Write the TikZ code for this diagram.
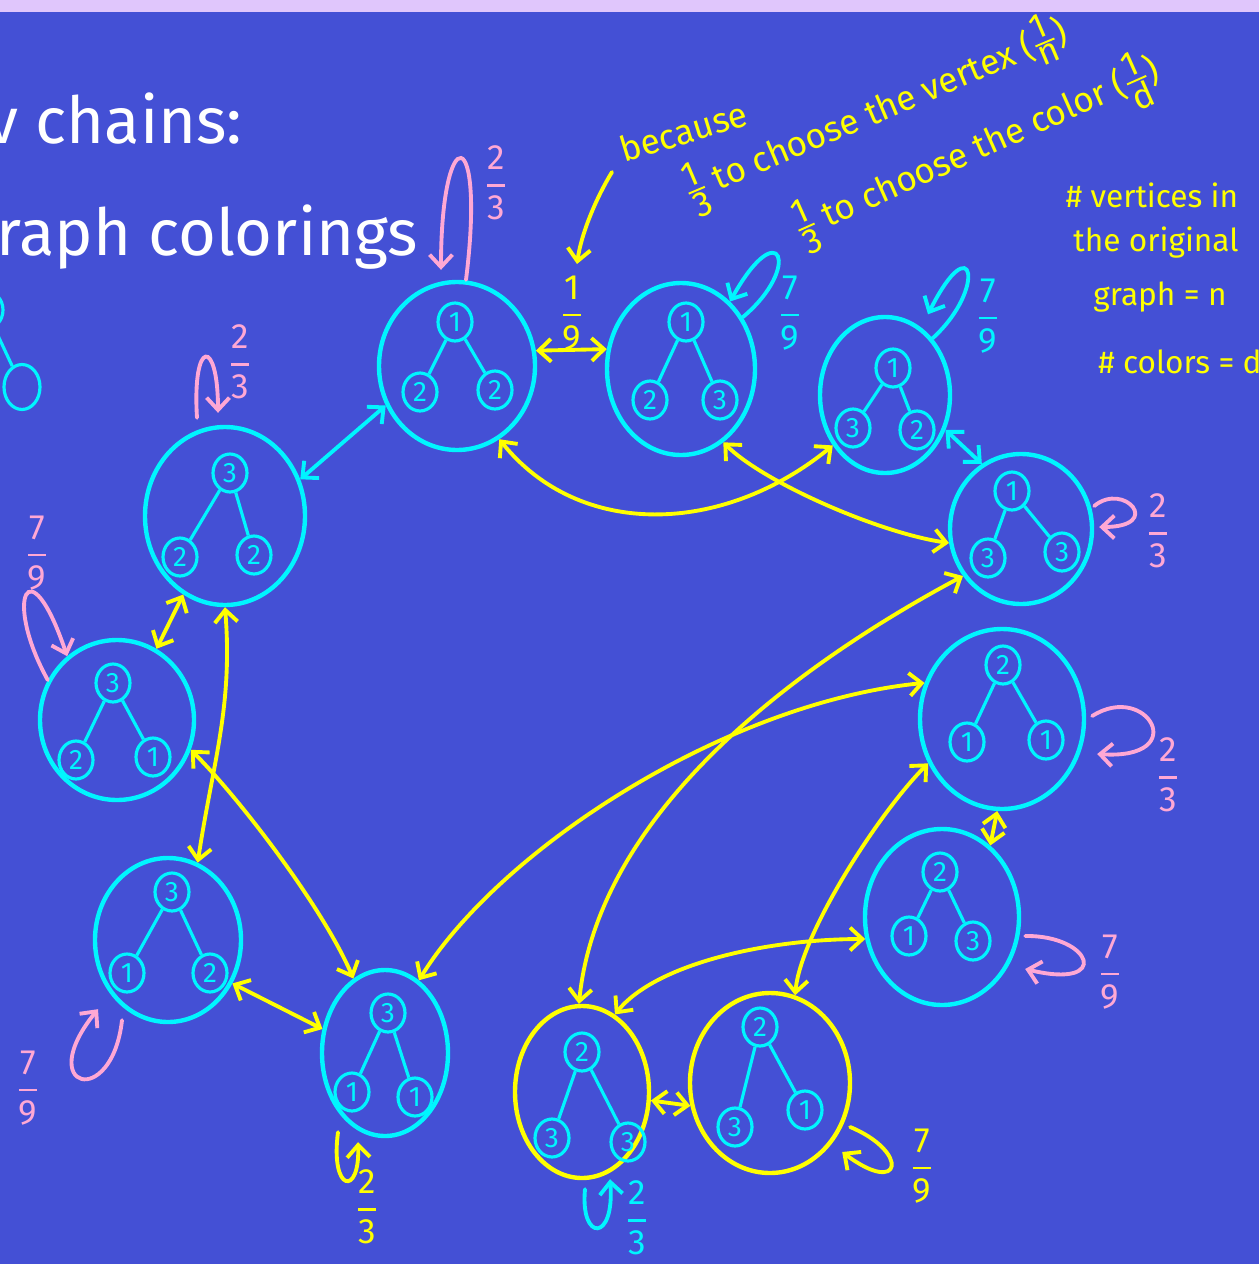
\documentclass[tikz,border=0pt]{standalone}
\usepackage{amsmath}
\usepackage{fontspec}
\setmainfont{Fira Sans}
\usetikzlibrary{shapes.geometric,arrows.meta,calc}
\definecolor{bg}{HTML}{4450D5}
\definecolor{lav}{HTML}{E0C6FC}
\definecolor{cy}{HTML}{00F5FF}
\definecolor{yl}{HTML}{FFFF00}
\definecolor{pk}{HTML}{FFA8D4}
\newcommand\fr[2]{$\genfrac{}{}{1.4pt}{0}{\mbox{#1}}{\mbox{#2}}$}
\newcommand\frs[2]{$\genfrac{}{}{1.1pt}{1}{\mbox{#1}}{\mbox{#2}}$}
\newcommand\tri[7]{%
 \node[vtx] (#1t) at (#2) {#3};
 \node[vtx] (#1l) at (#4) {#5};
 \node[vtx] (#1r) at (#6) {#7};
 \draw[tedge] (#1t) -- (#1l);
 \draw[tedge] (#1t) -- (#1r);}
\tikzset{
 blob/.style n args={3}{ellipse, draw=#3, line width=2.5pt, minimum width=#1*0.02cm, minimum height=#2*0.02cm, inner sep=0pt},
 vtx/.style={ellipse, draw=cy, line width=1.8pt, text=cy, minimum width=0.68cm, minimum height=0.76cm, inner sep=0pt, font=\fontsize{16}{16}\selectfont},
 tedge/.style={draw=cy, line width=1.8pt},
 dbl/.style={line width=2.2pt, line cap=round, {Straight Barb[length=7pt,width=13pt]}-{Straight Barb[length=7pt,width=13pt]}},
 sarr/.style={line width=2.2pt, line cap=round, -{Straight Barb[length=7pt,width=13pt]}},
 lab/.style={inner sep=0pt, font=\fontsize{20}{20}\selectfont},
 ann/.style={inner sep=0pt, text=yl, font=\fontsize{20}{22}\selectfont},
 side/.style={inner sep=0pt, text=yl, font=\fontsize{18}{18}\selectfont},
 ttl/.style={inner sep=0pt, text=white, font=\fontsize{37}{37}\selectfont}
}
\begin{document}
\begin{tikzpicture}[x=0.02cm,y=-0.02cm]
\useasboundingbox (0,0) rectangle (1259,1264);
\fill[bg] (0,0) rectangle (1259,1264);
\fill[lav] (0,0) rectangle (1259,12);

% title
\node[ttl, anchor=base west] (T1) at (-14,143) {v chains:};
\node[ttl, anchor=base west] (T2) at (-4,255) {raph colorings};

% partial graph at left edge
\node[vtx] (P1) at (-14,310) {};
\node[vtx, minimum width=0.72cm, minimum height=0.9cm] (P2) at (22,387) {};
\draw[tedge] (P1) -- (P2);

% states
\node[blob={156}{168}{cy}] (A) at (457,366) {};
\tri{A}{455,322}{1}{420,392}{2}{495,390}{2}
\node[blob={148}{172}{cy}] (B) at (681,369) {};
\tri{B}{686,322}{1}{650,400}{2}{720,400}{3}
\node[blob={130}{156}{cy}] (C) at (885,395) {};
\tri{C}{893,368}{1}{853,428}{3}{917,430}{2}
\node[blob={142}{150}{cy}] (D) at (1021,529) {};
\tri{D}{1012,491}{1}{988,558}{3}{1062,552}{3}
\node[blob={164}{180}{cy}] (E) at (1002,719) {};
\tri{E}{1003,665}{2}{967,742}{1}{1046,740}{1}
\node[blob={154}{176}{cy}] (F) at (942,917) {};
\tri{F}{940,872}{2}{909,936}{1}{973,941}{3}
\node[blob={160}{180}{yl}] (G) at (770,1083) {};
\tri{G}{760,1027}{2}{735,1127}{3}{805,1110}{1}
\node[blob={134}{172}{yl}] (H) at (582,1092) {};
\tri{H}{582,1052}{2}{552,1138}{3}{628,1142}{3}
\node[blob={126}{166}{cy}] (I) at (385,1053) {};
\tri{I}{388,1013}{3}{352,1092}{1}{415,1097}{1}
\node[blob={146}{164}{cy}] (J) at (168,940) {};
\tri{J}{172,892}{3}{127,973}{1}{210,973}{2}
\node[blob={154}{160}{cy}] (K) at (117,720) {};
\tri{K}{113,683}{3}{76,760}{2}{153,757}{1}
\node[blob={160}{178}{cy}] (L) at (225,516) {};
\tri{L}{230,473}{3}{180,557}{2}{254,555}{2}

% transitions
\draw[dbl,cy] (A.209) -- (L.26);
\draw[dbl,yl] (A.11) -- (B.165);
\draw[dbl,yl] (A.300) .. controls +(80,100) and +(-110,90) .. (C.224);
\draw[dbl,yl] (B.300) .. controls +(40,40) and +(-70,-10) .. (D.191);
\draw[dbl,cy] (C.330) -- (D.121);
\draw[dbl,yl] (L.242) -- (K.61);
\draw[dbl,yl] (L.270) .. controls +(8,100) and +(15,-100) .. (J.69);
\draw[dbl,yl] (K.338) .. controls +(50,50) and +(-30,-70) .. (I.113);
\draw[dbl,yl] (J.326) -- (I.159);
\draw[dbl,yl] (I.65) .. controls +(80,-130) and +(-200,20) .. (E.155);
\draw[dbl,yl] (D.219) .. controls +(-150,80) and +(20,-200) .. (H.92);
\draw[dbl,yl] (E.211) .. controls +(-50,50) and +(5,-60) .. (G.74);
\draw[dbl,yl] (E.267) -- (F.56);
\draw[dbl,yl] (F.196) .. controls +(-100,0) and +(40,-50) .. (H.67);
\draw[dbl,yl] (H.353) -- (G.196);

% self loops
\draw[sarr,pk] ($(A.north)+(9,0)$) .. controls +(20,-160) and +(0,-150) .. ($(A.north)+(-16,-10)$);
\draw[sarr,pk] ($(L.north)+(-28,-7)$) .. controls +(-5,-80) and +(0,-75) .. ($(L.north)+(-7,-12)$);
\draw[sarr,cy] (B.40) .. controls +(60,-50) and +(50,-90) .. (B.54);
\draw[sarr,cy] (C.50) .. controls +(55,-50) and +(45,-90) .. ($(C.62)+(7,-13)$);
\draw[sarr,pk] ($(D.east)+(0,-23)$) .. controls +(30,-25) and +(65,0) .. ($(D.east)+(5,-2)$);
\draw[sarr,pk] ($(E.east)+(6,-3)$) .. controls +(55,-35) and +(95,6) .. ($(E.east)+(11,35)$);
\draw[sarr,pk] ($(F.east)+(4,19)$) .. controls +(67,-1) and +(87,21) .. ($(F.east)+(4,52)$);
\draw[sarr,yl] ($(G.east)+(-2,44)$) .. controls +(60,25) and +(60,45) .. ($(G.east)+(-10,69)$);
\draw[sarr,cy] ($(H.south)+(3,9)$) .. controls +(-5,53) and +(5,63) .. ($(H.south)+(28,-1)$);
\draw[sarr,yl] ($(I.south)+(-47,-6)$) .. controls +(-8,60) and +(2,55) .. ($(I.south)+(-27,4)$);
\draw[sarr,pk] ($(J.south)+(-46,-4)$) .. controls +(-10,90) and +(-65,80) .. ($(J.south)+(-70,-15)$);
\draw[sarr,pk] (K.150) .. controls +(-45,-81) and +(-38,-113) .. (K.128);

% probabilities
\node[lab,text=pk] (pA) at (496,183) {\fr{2}{3}};
\node[lab,text=pk] (pL) at (240,362) {\fr{2}{3}};
\node[lab,text=cy] (pB) at (790,313) {\fr{7}{9}};
\node[lab,text=cy] (pC) at (988,316) {\fr{7}{9}};
\node[lab,text=pk] (pD) at (1158,531) {\fr{2}{3}};
\node[lab,text=pk] (pE) at (1168,775) {\fr{2}{3}};
\node[lab,text=pk] (pF) at (1110,972) {\fr{7}{9}};
\node[lab,text=yl] (pG) at (922,1166) {\fr{7}{9}};
\node[lab,text=cy] (pH) at (637,1218) {\fr{2}{3}};
\node[lab,text=yl] (pI) at (367,1207) {\fr{2}{3}};
\node[lab,text=pk] (pJ) at (28,1088) {\fr{7}{9}};
\node[lab,text=pk] (pK) at (37,553) {\fr{7}{9}};
\node[lab,text=yl] (pAB) at (572,313) {\fr{1}{9}};

% annotations
\node[ann, rotate=17, anchor=base west] (bec) at (624,163) {because};
\node[ann, rotate=23, anchor=base west] (n1) at (690,203) {\frs{1}{3} to choose the vertex (\frs{1}{n})};
\node[ann, rotate=24, anchor=base west] (n2) at (800,240) {\frs{1}{3} to choose the color (\frs{1}{d})};
\coordinate (b1) at (612,172);
\coordinate (b2) at (577,264);
\draw[sarr,yl] (b1) .. controls (595,200) and (581,235) .. (b2);
\node[side] (v1) at (1152,195) {\# vertices in};
\node[side] (v2) at (1156,243) {the original};
\node[side] (v3) at (1160,297) {graph = n};
\node[side, anchor=west] (v4) at (1098,362) {\# colors = d};
\end{tikzpicture}
\end{document}
